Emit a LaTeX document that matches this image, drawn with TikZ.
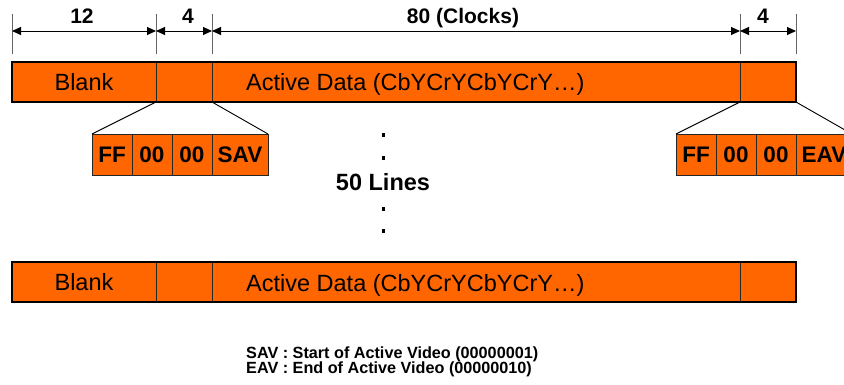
\documentclass[tikz,border=0pt]{standalone}
\usepackage{fontspec}
\setmainfont{Liberation Sans}
\usetikzlibrary{arrows.meta}
\definecolor{barfill}{HTML}{FF6600}
\begin{document}
\begin{tikzpicture}[x=1pt,y=-1pt]
\tikzset{
  cell/.style={draw=black!85, line width=0.9pt, fill=barfill, inner sep=0pt,
    outer sep=0pt, anchor=north west, minimum height=40pt},
  bartext/.style={font=\fontsize{23.5}{28}\selectfont},
  bytecell/.style={cell, minimum height=41pt, font=\bfseries\fontsize{22.5}{26}\selectfont},
  dimline/.style={draw=black, line width=0.9pt,
    {Triangle[length=9pt,width=8pt]}-{Triangle[length=9pt,width=8pt]}},
  ticker/.style={draw=black!60, line width=0.9pt},
  dimlabel/.style={font=\bfseries\fontsize{21}{24}\selectfont, anchor=base, inner sep=0pt},
  frame/.style={draw=black, line width=2.6pt},
  fan/.style={draw=black, line width=0.9pt},
  dotmark/.style={fill=black, minimum size=3.5pt, inner sep=0pt},
  note/.style={font=\bfseries\fontsize{16.2}{18}\selectfont, anchor=base west, inner sep=0pt}
}
\useasboundingbox (0,0) rectangle (844,385);
\clip (0,0) rectangle (844,385);

% dimension ticks and arrows
\foreach \n/\x in {0/12,1/156,2/212,3/740,4/796}{
  \coordinate (t\n) at (\x,14);
  \coordinate (b\n) at (\x,54);
  \coordinate (d\n) at (\x,31);
  \draw[ticker] (t\n) -- (b\n);
}
\draw[dimline] (d0) -- (d1);
\draw[dimline] (d1) -- (d2);
\draw[dimline] (d2) -- (d3);
\draw[dimline] (d3) -- (d4);
\node[dimlabel] (lblA) at (82,24) {12};
\node[dimlabel] (lblB) at (188,24) {4};
\node[dimlabel] (lblC) at (463,24) {80 (Clocks)};
\node[dimlabel] (lblD) at (763,24) {4};

% first line
\node[cell, minimum width=144pt, bartext] (blankA) at (12,62) {Blank};
\node[cell, minimum width=56pt] (savA) at (156,62) {};
\node[cell, minimum width=528pt] (actA) at (212,62) {};
\node[cell, minimum width=56pt] (eavA) at (740,62) {};
\draw[frame] (blankA.north west) rectangle (eavA.south east);
\node[bartext, anchor=base west, inner sep=0pt] (actAtext) at (246,91) {Active Data (CbYCrYCbYCrY…)};

% last line
\node[cell, minimum width=144pt, bartext] (blankB) at (12,262) {Blank};
\node[cell, minimum width=56pt] (savB) at (156,262) {};
\node[cell, minimum width=528pt] (actB) at (212,262) {};
\node[cell, minimum width=56pt] (eavB) at (740,262) {};
\draw[frame] (blankB.north west) rectangle (eavB.south east);
\node[bartext, anchor=base west, inner sep=0pt] (actBtext) at (246,291) {Active Data (CbYCrYCbYCrY…)};

% SAV code words
\node[bytecell, minimum width=40pt] (sFF) at (92,134) {FF};
\node[bytecell, minimum width=40pt] (sZa) at (132,134) {00};
\node[bytecell, minimum width=40pt] (sZb) at (172,134) {00};
\node[bytecell, minimum width=56pt] (sCode) at (212,134) {SAV};
\draw[fan] (savA.south west) -- (sFF.north west);
\draw[fan] (savA.south east) -- (sCode.north east);

% EAV code words
\node[bytecell, minimum width=40pt] (eFF) at (676,134) {FF};
\node[bytecell, minimum width=40pt] (eZa) at (716,134) {00};
\node[bytecell, minimum width=40pt] (eZb) at (756,134) {00};
\node[bytecell, minimum width=56pt] (eCode) at (796,134) {EAV};
\draw[fan] (eavA.south west) -- (eFF.north west);
\draw[fan] (eavA.south east) -- (eCode.north east);

% line count
\node[dotmark] (dotA) at (383.5,135) {};
\node[dotmark] (dotB) at (383.5,158) {};
\node[font=\bfseries\fontsize{23.5}{28}\selectfont, anchor=base, inner sep=0pt] (lines) at (383,190) {50 Lines};
\node[dotmark] (dotC) at (383.5,209) {};
\node[dotmark] (dotD) at (383.5,231) {};

% legend
\node[note] (noteS) at (246,358) {SAV : Start of Active Video (00000001)};
\node[note] (noteE) at (246,373) {EAV : End of Active Video (00000010)};
\end{tikzpicture}
\end{document}
